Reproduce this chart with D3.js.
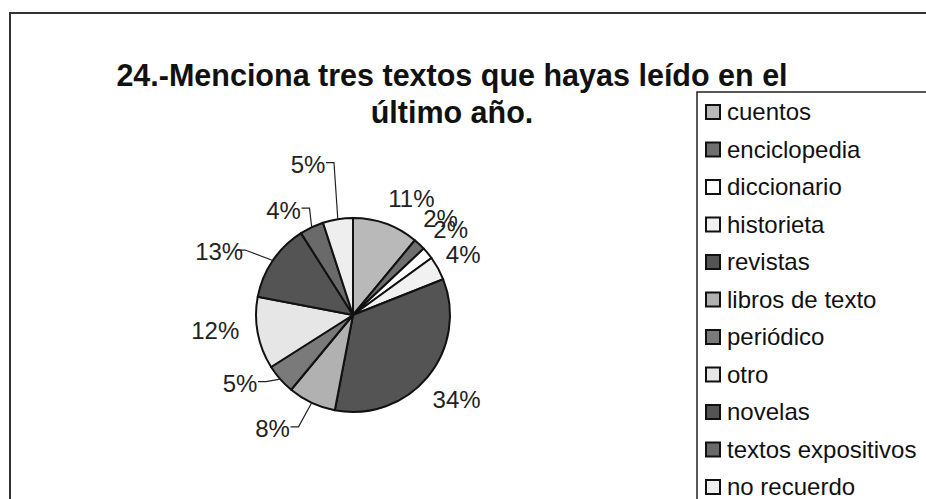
<!DOCTYPE html>
<html>
<head>
<meta charset="utf-8">
<script src="https://cdn.jsdelivr.net/npm/d3@7"></script>
<style>
    body { margin: 0; background: #fff; }
    svg { display: block; font-family: Arial, "Liberation Sans", sans-serif; }
</style>
</head>
<body>
<svg id="playground" width="926" height="499"></svg>
<script>
// data
var categories = ["cuentos","enciclopedia","diccionario","historieta","revistas","libros de texto","periódico","otro","novelas","textos expositivos","no recuerdo"];
var percents = [11, 2, 2, 4, 34, 8, 5, 12, 13, 4, 5];
var titleLines = ["24.-Menciona tres textos que hayas leído en el", "último año."];

// grey fills of the scan
var fills = ["#b9b9b9","#6f6f6f","#ffffff","#f1f1f1","#545454","#b1b1b1","#7a7a7a","#e6e6e6","#545454","#6a6a6a","#eeeeee"];
// label nudges (dx,dy) away from the plain label ring, and which ones get a leader
var labelNudge = [[15,4],[0,-3],[-1,-4],[-2,1],[5,3],[-26,-2],[-17,-16],[-12,-8],[-28,9],[-15,11],[-25,-24]];
var hasLeader = [false,false,false,false,false,true,true,false,true,true,true];

var cx = 353, cy = 315, radius = 97, labelRadius = 128;

var svg = d3.select("#playground");

// outer frame (cut off at right and bottom like the scan)
svg.append("rect")
    .attr("x", 10).attr("y", 13)
    .attr("width", 1000).attr("height", 600)
    .attr("fill", "none")
    .attr("stroke", "#333")
    .attr("stroke-width", 2);

// title
svg.selectAll(".title")
    .data(titleLines)
    .enter().append("text")
    .attr("class", "title")
    .attr("x", 452)
    .attr("y", function(d, i){ return 86 + i*37; })
    .attr("text-anchor", "middle")
    .attr("font-size", 30.5)
    .attr("font-weight", "bold")
    .attr("fill", "#111")
    .text(function(d){ return d; });

var pie = d3.pie().sort(null).value(function(d){ return d; });
var arcs = pie(percents);
var arc = d3.arc().innerRadius(0).outerRadius(radius);

var g = svg.append("g").attr("transform", "translate(" + cx + "," + cy + ")");

g.selectAll("path.slice")
    .data(arcs)
    .enter().append("path")
    .attr("class", "slice")
    .attr("d", arc)
    .attr("fill", function(d, i){ return fills[i]; })
    .attr("stroke", "#111")
    .attr("stroke-width", 2)
    .attr("stroke-linejoin", "round");

function midAngle(d){ return (d.startAngle + d.endAngle)/2; }
function labelPos(d, i){
    var a = midAngle(d);
    return [labelRadius*Math.sin(a) + labelNudge[i][0], -labelRadius*Math.cos(a) + labelNudge[i][1]];
}

// leader lines: short horizontal stub off the label, then to the rim
g.selectAll("polyline.leader")
    .data(arcs.filter(function(d, i){ return hasLeader[i]; }))
    .enter().append("polyline")
    .attr("class", "leader")
    .attr("fill", "none")
    .attr("stroke", "#222")
    .attr("stroke-width", 1.2)
    .attr("points", function(d){
        var i = d.index;
        var p = labelPos(d, i);
        var a = midAngle(d);
        var rim = [radius*Math.sin(a), -radius*Math.cos(a)];
        var side = rim[0] > p[0] ? 1 : -1;
        var sx = p[0] + side*18, sy = p[1] - 2;
        return [[sx, sy], [sx + side*8, sy], rim].map(function(q){ return q.join(","); }).join(" ");
    });

g.selectAll("text.pct")
    .data(arcs)
    .enter().append("text")
    .attr("class", "pct")
    .attr("x", function(d, i){ return labelPos(d, i)[0]; })
    .attr("y", function(d, i){ return labelPos(d, i)[1]; })
    .attr("dy", "0.35em")
    .attr("text-anchor", "middle")
    .attr("font-size", 24)
    .attr("fill", "#222")
    .text(function(d){ return d.data + "%"; });

// legend box, also running off the page
var legend = svg.append("g").attr("transform", "translate(697,92)");
legend.append("rect")
    .attr("width", 300).attr("height", 500)
    .attr("fill", "#fff")
    .attr("stroke", "#222")
    .attr("stroke-width", 1.5);

var rows = legend.selectAll("g.row")
    .data(categories)
    .enter().append("g")
    .attr("class", "row")
    .attr("transform", function(d, i){ return "translate(0," + (28 + i*37.5) + ")"; });

rows.append("rect")
    .attr("x", 9).attr("y", -15)
    .attr("width", 14).attr("height", 14)
    .attr("fill", function(d, i){ return fills[i]; })
    .attr("stroke", "#111")
    .attr("stroke-width", 2);

rows.append("text")
    .attr("x", 30)
    .attr("y", 0)
    .attr("font-size", 24)
    .attr("fill", "#111")
    .text(function(d){ return d; });
</script>
</body>
</html>
